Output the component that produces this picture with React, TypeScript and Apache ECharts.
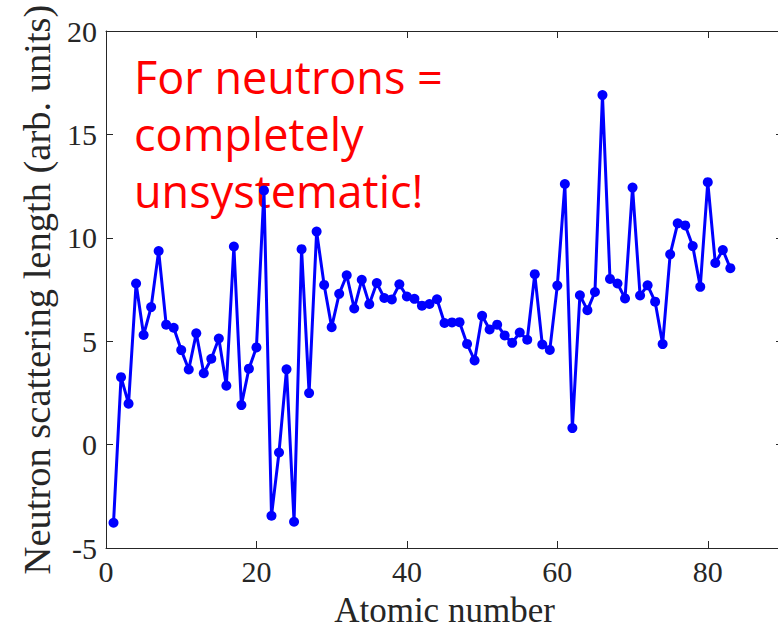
import React, { useEffect, useRef } from "react";
import * as echarts from "echarts";

const atomicNumbers = [
  1, 2, 3, 4, 5, 6, 7, 8, 9, 10, 11, 12, 13, 14, 15, 16, 17, 18, 19, 20,
  21, 22, 23, 24, 25, 26, 27, 28, 29, 30, 31, 32, 33, 34, 35, 36, 37, 38, 39, 40,
  41, 42, 43, 44, 45, 46, 47, 48, 49, 50, 51, 52, 53, 54, 55, 56, 57, 58, 59, 60,
  61, 62, 63, 64, 65, 66, 67, 68, 69, 70, 71, 72, 73, 74, 75, 76, 77, 78, 79, 80,
  81, 82, 83,
];

const scatteringLengths = [
  -3.78, 3.26, 1.98, 7.79, 5.3, 6.65, 9.36, 5.8, 5.65, 4.57,
  3.63, 5.38, 3.45, 4.15, 5.13, 2.85, 9.58, 1.91, 3.67, 4.7,
  12.29, -3.44, -0.38, 3.64, -3.73, 9.45, 2.49, 10.3, 7.72, 5.68,
  7.29, 8.19, 6.58, 7.97, 6.79, 7.81, 7.09, 7.02, 7.75, 7.16,
  7.05, 6.72, 6.8, 7.03, 5.88, 5.91, 5.92, 4.87, 4.07, 6.23,
  5.57, 5.8, 5.28, 4.92, 5.42, 5.07, 8.24, 4.84, 4.58, 7.69,
  12.6, 0.8, 7.22, 6.5, 7.38, 16.9, 8.01, 7.79, 7.07, 12.43,
  7.21, 7.7, 6.91, 4.86, 9.2, 10.7, 10.6, 9.6, 7.63, 12.69,
  8.78, 9.41, 8.53,
];

const xTickLabels = [0, 20, 40, 60, 80];
const yTickLabels = [-5, 0, 5, 10, 15, 20];
const annotationLines = ["For neutrons =", "completely", "unsystematic!"];

const xTitle = "Atomic number";
const yTitle = "Neutron scattering length (arb. units)";

const axisColor = "#262626";
const serif = "'Liberation Serif', 'Times New Roman', serif";

export default function App() {
  const ref = useRef<HTMLDivElement>(null);

  useEffect(() => {
    document.body.style.margin = "0";
    if (!ref.current) return;
    const chart = echarts.init(ref.current, null, { renderer: "svg" });

    const data = atomicNumbers.map((z, i) => [z, scatteringLengths[i]]);

    const lineStyle = { color: axisColor, width: 1 };
    const xMin = xTickLabels[0];
    const xInterval = xTickLabels[1] - xTickLabels[0];
    const yMin = yTickLabels[0];
    const yMax = yTickLabels[yTickLabels.length - 1];
    const yInterval = yTickLabels[1] - yTickLabels[0];
    const xMax = 90;

    const baseAxis = (extra: any) => ({
      type: "value",
      axisLine: { show: true, onZero: false, lineStyle },
      axisTick: { show: true, inside: true, length: 7, lineStyle },
      splitLine: { show: false },
      ...extra,
    });

    const option: any = {
      animation: false,
      backgroundColor: "#ffffff",
      grid: {
        left: 106,
        top: 31,
        right: -5,
        bottom: 82,
        containLabel: false,
        outerBoundsMode: "none",
      },
      xAxis: [
        baseAxis({
          position: "bottom",
          min: xMin,
          max: xMax,
          interval: xInterval,
          axisLabel: {
            show: true,
            color: axisColor,
            fontFamily: serif,
            fontSize: 30,
            margin: 8,
            showMaxLabel: false,
            formatter: (v: number) => (xTickLabels.includes(v) ? String(v) : ""),
          },
          name: xTitle,
          nameLocation: "middle",
          nameGap: 45,
          nameTextStyle: { color: axisColor, fontFamily: serif, fontSize: 35, lineHeight: 35 },
        }),
        baseAxis({
          position: "top",
          min: xMin,
          max: xMax,
          interval: xInterval,
          axisLabel: { show: false },
        }),
      ],
      yAxis: [
        baseAxis({
          position: "left",
          min: yMin,
          max: yMax,
          interval: yInterval,
          axisLabel: {
            show: true,
            color: axisColor,
            fontFamily: serif,
            fontSize: 30,
            margin: 9,
          },
          name: yTitle,
          nameLocation: "middle",
          nameGap: 50,
          nameRotate: 90,
          nameTextStyle: { color: axisColor, fontFamily: serif, fontSize: 38.5 },
        }),
        baseAxis({
          position: "right",
          min: yMin,
          max: yMax,
          interval: yInterval,
          axisLabel: { show: false },
        }),
      ],
      series: [
        {
          type: "line",
          xAxisIndex: 0,
          yAxisIndex: 0,
          data,
          symbol: "circle",
          symbolSize: 10,
          showSymbol: true,
          lineStyle: { color: "#0000FF", width: 3 },
          itemStyle: { color: "#0000FF" },
          clip: false,
          z: 5,
        },
      ],
      graphic: [
        {
          type: "text",
          x: 134,
          y: 48,
          z: 1,
          style: {
            text: annotationLines.join("\n"),
            fill: "#FF0000",
            fontFamily: "'Open Sans', 'Noto Sans', sans-serif",
            fontSize: 45,
            lineHeight: 57,
            align: "left",
            verticalAlign: "top",
          },
        },
      ],
    };

    chart.setOption(option);
    return () => chart.dispose();
  }, []);

  return <div ref={ref} style={{ width: 778, height: 630 }} />;
}
